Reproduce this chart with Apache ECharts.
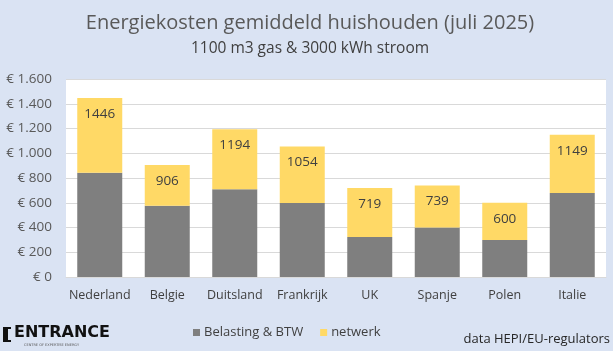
<!DOCTYPE html>
<html><head><meta charset="utf-8">
<script src="https://cdn.jsdelivr.net/npm/echarts@6/dist/echarts.min.js"></script>
<style>html,body{margin:0;padding:0;background:#dae3f3}#c{width:613px;height:351px}</style>
</head><body><div id="c"></div>
<script>
const categories = ['Nederland','Belgie','Duitsland','Frankrijk','UK','Spanje','Polen','Italie'];
const belasting = [842, 576, 710, 598, 324, 399, 300, 678];
const netwerk = [604, 330, 484, 456, 395, 340, 300, 471];
const totaal = [1446, 906, 1194, 1054, 719, 739, 600, 1149];
const yTicks = [0, 200, 400, 600, 800, 1000, 1200, 1400, 1600];

const FONT = 'Open Sans';
const chart = echarts.init(document.getElementById('c'));
chart.setOption({
  backgroundColor: '#dae3f3',
  textStyle: {fontFamily: FONT},
  legend: {
    data: ['Belasting & BTW', 'netwerk'], left: 193, top: 326, padding: 0, itemWidth: 7, itemHeight: 7, itemGap: 17,
    icon: 'rect', textStyle: {fontFamily: FONT, fontSize: 13, color: '#404040', padding: [0, 0, 0, -1]}
  },
  grid: {left: 66, right: 7, top: 79, bottom: 74, backgroundColor: '#ffffff', show: true, borderWidth: 0},
  xAxis: {
    type: 'category', data: categories,
    axisLine: {show: true, lineStyle: {color: '#d9d9d9'}}, axisTick: {show: false},
    axisLabel: {interval: 0, fontFamily: FONT, fontSize: 12.5, color: '#404040', margin: 12}
  },
  yAxis: {
    type: 'value', min: yTicks[0], max: yTicks[yTicks.length-1], interval: 200,
    axisLine: {show: false}, axisTick: {show: false},
    splitLine: {lineStyle: {color: '#d9d9d9'}},
    axisLabel: {fontFamily: FONT, fontSize: 13.5, color: '#595959', margin: 14,
      formatter: v => '€ ' + (v >= 1000 ? Math.floor(v/1000) + '.' + String(v%1000).padStart(3,'0') : v)}
  },
  series: [
    {name: 'Belasting & BTW', type: 'bar', stack: 't', data: belasting, barWidth: 45,
     itemStyle: {color: '#7f7f7f'}},
    {name: 'netwerk', type: 'bar', stack: 't', data: netwerk, barWidth: 45,
     itemStyle: {color: '#ffd966'},
     label: {show: true, position: 'insideTop', distance: 9, fontFamily: FONT, fontSize: 13.5, color: '#404040',
       formatter: p => totaal[p.dataIndex]}}
  ],
  graphic: [
    {type: 'text', x: 310, y: 23, style: {text: 'Energiekosten gemiddeld huishouden (juli 2025)', fontFamily: FONT, fontSize: 20, fill: '#595959', textAlign: 'center', textVerticalAlign: 'middle'}},
    {type: 'text', x: 310, y: 49, style: {text: '1100 m3 gas & 3000 kWh stroom', fontFamily: FONT, fontSize: 15.5, fill: '#404040', textAlign: 'center', textVerticalAlign: 'middle'}},
    {type: 'rect', shape: {x: 3, y: 327, width: 5, height: 15}, style: {fill: '#111'}},
    {type: 'rect', shape: {x: 3, y: 327, width: 8, height: 2}, style: {fill: '#111'}},
    {type: 'rect', shape: {x: 3, y: 340, width: 8, height: 2}, style: {fill: '#111'}},
    {type: 'text', x: 14, y: 333, style: {text: 'ENTRANCE', fontFamily: 'DejaVu Sans', fontWeight: 'bold', fontSize: 16, fill: '#111', textVerticalAlign: 'middle'}},
    {type: 'text', x: 24, y: 345, style: {text: 'CENTRE OF EXPERTISE ENERGY', fontFamily: 'DejaVu Sans', fontSize: 3.5, fill: '#555', textVerticalAlign: 'middle'}},
    {type: 'text', x: 610, y: 339, style: {text: 'data HEPI/EU-regulators', fontFamily: FONT, fontSize: 13, fill: '#262626', textAlign: 'right', textVerticalAlign: 'middle'}}
  ]
});
</script></body></html>
